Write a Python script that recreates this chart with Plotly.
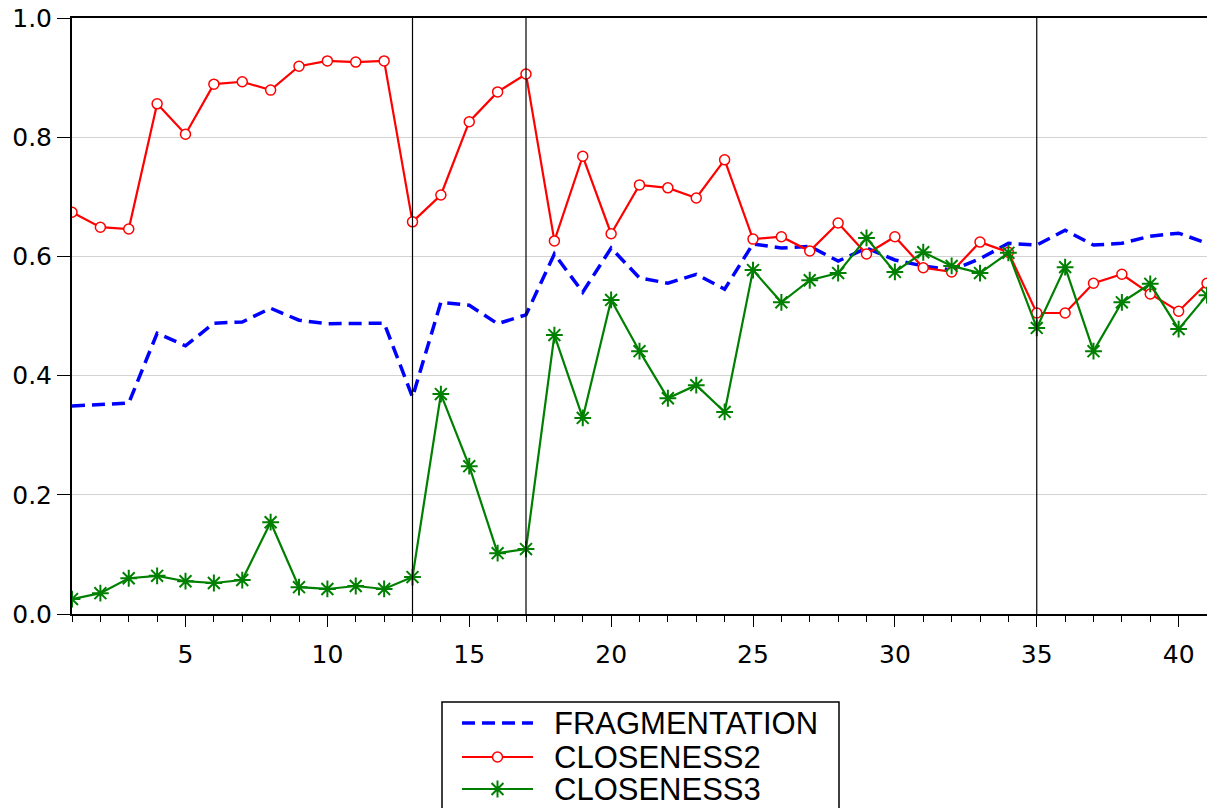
import plotly.graph_objects as go

x = list(range(1, 42))

fragmentation = [0.349, 0.351, 0.354, 0.471, 0.450, 0.488, 0.490, 0.513, 0.493, 0.487,
                 0.488, 0.488, 0.364, 0.523, 0.518, 0.487, 0.502, 0.604, 0.540, 0.614,
                 0.564, 0.555, 0.570, 0.545, 0.621, 0.614, 0.617, 0.592, 0.614, 0.594,
                 0.584, 0.577, 0.596, 0.622, 0.619, 0.644, 0.619, 0.622, 0.634, 0.639,
                 0.622]

closeness2 = [0.674, 0.649, 0.646, 0.856, 0.805, 0.889, 0.893, 0.879, 0.919, 0.928,
              0.926, 0.928, 0.658, 0.703, 0.826, 0.876, 0.906, 0.626, 0.768, 0.638,
              0.720, 0.715, 0.698, 0.762, 0.629, 0.633, 0.609, 0.656, 0.604, 0.633,
              0.581, 0.574, 0.624, 0.607, 0.505, 0.505, 0.555, 0.570, 0.537, 0.508,
              0.555]

closeness3 = [0.025, 0.035, 0.060, 0.064, 0.055, 0.052, 0.057, 0.154, 0.045, 0.042,
              0.047, 0.042, 0.062, 0.369, 0.248, 0.102, 0.109, 0.468, 0.329, 0.527,
              0.441, 0.362, 0.384, 0.339, 0.577, 0.523, 0.560, 0.572, 0.631, 0.574,
              0.607, 0.584, 0.572, 0.606, 0.480, 0.582, 0.441, 0.523, 0.554, 0.478,
              0.535]

series_names = ["FRAGMENTATION", "CLOSENESS2", "CLOSENESS3"]
vlines = [13, 17, 35]
ytick_vals = [0.0, 0.2, 0.4, 0.6, 0.8, 1.0]
ytick_text = ["0.0", "0.2", "0.4", "0.6", "0.8", "1.0"]

# page geometry (pixels); paper = whole page, plot area set via axis domains
W, H = 1207, 808
PLOT_L, PLOT_R, PLOT_T, PLOT_B = 72, 1207, 18, 614

def fx(px):
    return px / W

def fy(py):
    return (H - py) / H

BLUE, RED, GREEN = "#0000ff", "#ff0000", "#008000"

fig = go.Figure()
fig.add_trace(go.Scatter(x=x, y=fragmentation, mode="lines", name=series_names[0],
                         line=dict(color=BLUE, width=3.5, dash="13px,7px")))
fig.add_trace(go.Scatter(x=x, y=closeness2, mode="lines+markers", name=series_names[1],
                         line=dict(color=RED, width=2.2),
                         marker=dict(symbol="circle", size=10, color="white",
                                     line=dict(color=RED, width=1.5))))
fig.add_trace(go.Scatter(x=x, y=closeness3, mode="lines+markers", name=series_names[2],
                         line=dict(color=GREEN, width=2.2),
                         marker=dict(symbol="asterisk-open", size=14, color=GREEN,
                                     line=dict(color=GREEN, width=2))))

for v in vlines:
    fig.add_shape(type="line", x0=v, x1=v, y0=0, y1=1, xref="x", yref="y",
                  line=dict(color="black", width=1.2), layer="above")

# ---- manual legend (page-pixel positions) ----
box_l, box_r, box_t, box_b = 442, 839, 702, 840
fig.add_shape(type="rect", xref="paper", yref="paper",
              x0=fx(box_l), x1=fx(box_r), y0=fy(box_b), y1=fy(box_t),
              line=dict(color="black", width=1.5), fillcolor="rgba(0,0,0,0)",
              layer="above")
row_y = [723, 757, 789]
samp_l, samp_r, text_l = 462, 533, 552
styles = [dict(color=BLUE, width=3.5, dash="13px,7px"),
          dict(color=RED, width=2.2), dict(color=GREEN, width=2.2)]
for name, yy, st in zip(series_names, row_y, styles):
    fig.add_shape(type="line", xref="paper", yref="paper",
                  x0=fx(samp_l), x1=fx(samp_r), y0=fy(yy), y1=fy(yy),
                  line=st, layer="below")
    fig.add_annotation(xref="paper", yref="paper", x=fx(text_l), y=fy(yy),
                       text=name, showarrow=False, xanchor="left", yanchor="middle",
                       font=dict(size=31, color="black",
                                 family="Liberation Sans, Arial, sans-serif"))
mid = (samp_l + samp_r) / 2
fig.add_trace(go.Scatter(x=[mid], y=[row_y[1]], mode="markers", xaxis="x2", yaxis="y2",
                         showlegend=False, hoverinfo="skip",
                         marker=dict(symbol="circle", size=10, color="white",
                                     line=dict(color=RED, width=1.5))))
fig.add_trace(go.Scatter(x=[mid], y=[row_y[2]], mode="markers", xaxis="x2", yaxis="y2",
                         showlegend=False, hoverinfo="skip",
                         marker=dict(symbol="asterisk-open", size=14, color=GREEN,
                                     line=dict(color=GREEN, width=2))))

fig.update_layout(
    width=W, height=H,
    margin=dict(l=0, r=0, t=0, b=0, autoexpand=False),
    paper_bgcolor="white", plot_bgcolor="rgba(0,0,0,0)",
    font=dict(family="DejaVu Sans, sans-serif", color="black"),
    showlegend=False,
    xaxis=dict(domain=[fx(PLOT_L), fx(PLOT_R)], range=[1, 41], tickmode="linear",
               tick0=0, dtick=5, ticks="outside", ticklen=11, tickwidth=1,
               tickcolor="black", showline=True, linecolor="black", linewidth=2,
               mirror=True, showgrid=False, zeroline=False, tickfont=dict(size=25),
               ticklabelstandoff=6,
               minor=dict(dtick=1, tick0=0, ticks="outside", ticklen=6,
                          tickcolor="black", tickwidth=1, showgrid=False)),
    yaxis=dict(domain=[fy(PLOT_B), fy(PLOT_T)], range=[0, 1], tickvals=ytick_vals,
               ticktext=ytick_text, ticks="outside", ticklen=13, tickwidth=1,
               tickcolor="black", showline=True, linecolor="black", linewidth=2,
               showgrid=True, gridcolor="#d3d3d3", gridwidth=1, zeroline=False,
               tickfont=dict(size=25)),
    xaxis2=dict(domain=[0, 1], range=[0, W], anchor="y2", visible=False,
                fixedrange=True),
    yaxis2=dict(domain=[0, 1], range=[H, 0], anchor="x2", visible=False,
                fixedrange=True),
)

fig.write_html("out.html")
